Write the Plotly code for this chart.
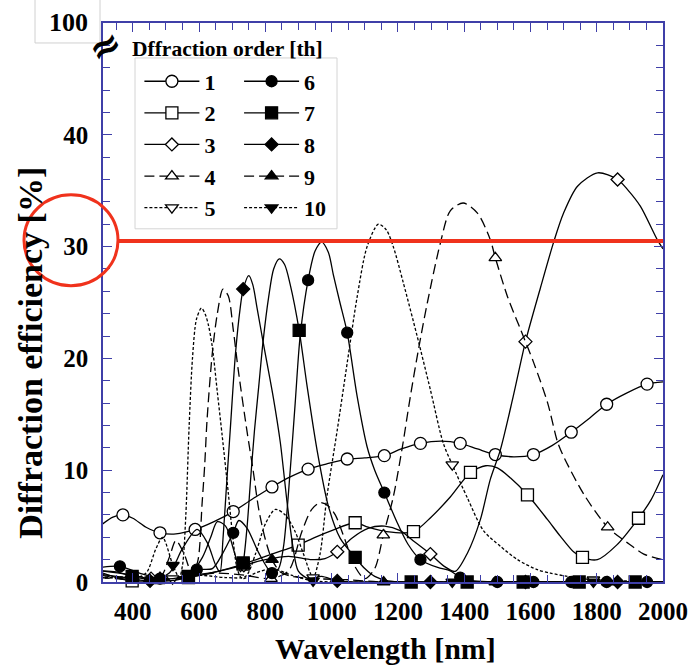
import plotly.graph_objects as go

# ---------------- data ----------------
wl1 = [300, 340, 370, 400, 440, 482, 530, 588, 645, 703, 760, 820, 875, 929, 990, 1047, 1100, 1159, 1210, 1268, 1330, 1388, 1440, 1494, 1550, 1609, 1665, 1723, 1780, 1830, 1890, 1952, 2000]
ef1 = [5.0, 5.8, 6.0, 5.7, 4.9, 4.4, 4.3, 4.7, 5.4, 6.3, 7.4, 8.5, 9.4, 10.1, 10.6, 11.0, 11.1, 11.3, 11.9, 12.4, 12.6, 12.4, 11.9, 11.4, 11.2, 11.4, 12.2, 13.4, 14.7, 15.9, 16.9, 17.7, 17.9]
mk1 = [370, 482, 588, 703, 820, 929, 1047, 1159, 1268, 1388, 1494, 1609, 1723, 1830, 1952]

wl2 = [300, 350, 398, 450, 500, 568, 650, 733, 800, 850, 899, 950, 1000, 1071, 1110, 1166, 1247, 1300, 1358, 1419, 1465, 1500, 1540, 1591, 1651, 1690, 1730, 1757, 1802, 1860, 1926, 1963, 2000]
ef2 = [0.9, 0.4, 0.1, 0.1, 0.2, 0.4, 0.9, 1.6, 2.3, 2.8, 3.3, 4.0, 4.6, 5.3, 4.9, 4.5, 4.5, 5.8, 7.6, 9.8, 10.4, 10.2, 9.3, 7.8, 5.6, 4.1, 2.7, 2.2, 2.0, 3.3, 5.7, 7.3, 9.6]
mk2 = [398, 568, 733, 899, 1071, 1247, 1419, 1591, 1757, 1926]

wl3 = [300, 380, 455, 550, 650, 735, 800, 870, 940, 980, 1017, 1060, 1110, 1160, 1207, 1250, 1298, 1340, 1373, 1410, 1449, 1479, 1509, 1548, 1585, 1630, 1670, 1700, 1742, 1803, 1863, 1893, 1932, 1983, 2000]
ef3 = [1.0, 0.7, 0.3, 0.5, 0.9, 1.5, 2.0, 2.3, 2.0, 2.1, 2.7, 3.9, 4.8, 5.0, 4.6, 3.6, 2.5, 1.4, 0.95, 2.6, 5.6, 9.2, 11.8, 16.6, 21.5, 26.3, 30.4, 33.0, 35.4, 36.6, 36.0, 35.1, 33.6, 30.6, 29.8]
mk3 = [455, 735, 1017, 1298, 1585, 1863]

wl4 = [300, 400, 478, 560, 650, 740, 817, 870, 910, 940, 966, 990, 1011, 1040, 1070, 1100, 1130, 1156, 1186, 1213, 1237, 1262, 1289, 1328, 1358, 1397, 1440, 1479, 1494, 1531, 1570, 1610, 1652, 1682, 1702, 1762, 1833, 1893, 1942, 2000]
ef4 = [0.4, 0.2, 0.1, 0.4, 0.8, 0.6, 0.3, 1.0, 4.5, 6.5, 7.1, 6.8, 6.0, 3.8, 1.4, 0.3, 1.2, 4.2, 7.6, 12.0, 16.5, 20.8, 25.0, 30.3, 33.2, 33.9, 33.0, 30.6, 29.0, 25.5, 22.6, 19.6, 16.0, 12.5, 11.1, 7.8, 4.9, 3.5, 2.5, 2.0]
mk4 = [478, 817, 1156, 1494, 1833]

wl5 = [300, 400, 520, 600, 680, 740, 770, 800, 830, 860, 890, 915, 944, 965, 986, 1017, 1047, 1077, 1107, 1141, 1165, 1186, 1216, 1258, 1298, 1337, 1364, 1410, 1458, 1509, 1561, 1621, 1660, 1712, 1790, 1880, 2000]
ef5 = [0.3, 0.5, 0.3, 0.6, 0.4, 0.5, 2.5, 5.2, 6.5, 6.0, 4.5, 2.5, 0.4, 2.5, 7.7, 13.6, 19.6, 25.5, 30.0, 32.0, 31.5, 30.0, 26.8, 22.0, 17.2, 12.4, 10.5, 7.5, 4.6, 3.2, 2.0, 1.1, 0.8, 0.5, 0.2, 0.1, 0.0]
mk5 = [520, 944, 1364, 1790]

wl6 = [300, 361, 420, 482, 540, 593, 640, 670, 703, 720, 745, 780, 820, 840, 855, 875, 890, 905, 929, 950, 970, 990, 1005, 1025, 1047, 1077, 1107, 1130, 1159, 1198, 1230, 1268, 1320, 1358, 1388, 1430, 1500, 1609, 1723, 1830, 1952, 2000]
ef6 = [1.3, 1.4, 0.8, 0.3, 0.4, 1.1, 1.2, 2.5, 4.4, 5.5, 4.8, 2.6, 0.8, 1.2, 3.2, 10.0, 16.0, 22.0, 27.0, 29.6, 30.4, 29.5, 27.5, 25.0, 22.3, 16.6, 12.1, 10.0, 8.0, 5.3, 3.4, 2.0, 1.3, 1.0, 0.4, 0.1, 0.0, 0.0, 0.0, 0.0, 0.0, 0.0]
mk6 = [361, 482, 593, 703, 820, 929, 1047, 1159, 1268, 1388, 1500, 1609, 1723, 1830, 1952]

wl7 = [300, 350, 398, 450, 510, 567, 610, 635, 655, 680, 705, 725, 733, 745, 755, 767, 780, 793, 810, 825, 842, 858, 875, 902, 926, 956, 990, 1026, 1071, 1100, 1130, 1170, 1240, 1409, 1578, 1747, 1916, 2000]
ef7 = [1.0, 0.9, 0.5, 0.2, 0.1, 0.5, 2.2, 4.0, 5.4, 5.0, 2.8, 0.9, 1.7, 5.0, 9.0, 13.5, 17.5, 21.5, 25.5, 28.0, 28.9, 28.4, 26.6, 22.5, 17.5, 11.8, 6.8, 3.9, 2.2, 1.2, 0.5, 0.1, 0.0, 0.0, 0.0, 0.0, 0.0, 0.0]
mk7 = [398, 567, 733, 902, 1071, 1240, 1409, 1578, 1747, 1916]

wl8 = [300, 380, 452, 510, 550, 594, 625, 650, 663, 672, 684, 694, 710, 724, 733, 750, 762, 775, 793, 824, 845, 866, 884, 899, 930, 970, 1017, 1100, 1298, 1585, 1863, 2000]
ef8 = [0.7, 0.4, 0.1, 0.8, 3.0, 4.7, 3.5, 1.5, 0.9, 3.8, 9.2, 13.6, 20.5, 24.5, 26.2, 27.4, 26.6, 24.5, 21.5, 16.5, 12.5, 7.0, 3.0, 1.0, 0.3, 0.5, 0.1, 0.0, 0.0, 0.0, 0.0, 0.0]
mk8 = [452, 733, 1017, 1298, 1585, 1863]

wl9 = [300, 400, 482, 510, 530, 555, 580, 597, 609, 617, 624, 640, 655, 672, 688, 703, 718, 745, 763, 780, 800, 820, 845, 880, 950, 1050, 1157, 1494, 1833, 2000]
ef9 = [0.6, 0.3, 0.4, 2.2, 3.7, 2.5, 0.6, 2.0, 7.0, 10.5, 14.5, 20.5, 24.0, 26.2, 25.6, 22.6, 19.0, 13.4, 10.0, 6.5, 3.8, 2.0, 0.9, 0.5, 0.3, 0.2, 0.0, 0.0, 0.0, 0.0]
mk9 = [482, 820, 1157, 1494, 1833]

wl10 = [300, 400, 440, 470, 490, 521, 540, 550, 560, 570, 580, 592, 607, 618, 628, 640, 655, 670, 688, 700, 715, 730, 770, 820, 880, 944, 1050, 1364, 1790, 2000]
ef10 = [0.5, 0.3, 0.8, 3.0, 4.0, 1.5, 0.4, 1.5, 6.0, 14.0, 20.0, 23.5, 24.5, 24.0, 23.0, 21.0, 17.0, 13.0, 8.0, 4.5, 1.2, 0.3, 0.8, 1.2, 0.6, 0.1, 0.0, 0.0, 0.0, 0.0]
mk10 = [521, 944, 1364, 1790]

orders = ["1", "2", "3", "4", "5", "6", "7", "8", "9", "10"]
x_ticks = [400, 600, 800, 1000, 1200, 1400, 1600, 1800, 2000]
y_ticks = [0, 10, 20, 30, 40]
top_label = "100"
highlight_level = 30.5

series = [(wl1, ef1, mk1), (wl2, ef2, mk2), (wl3, ef3, mk3), (wl4, ef4, mk4), (wl5, ef5, mk5),
          (wl6, ef6, mk6), (wl7, ef7, mk7), (wl8, ef8, mk8), (wl9, ef9, mk9), (wl10, ef10, mk10)]

# ---------------- styles ----------------
dashes = ["solid", "solid", "solid", "10px,5px", "3px,2px",
          "solid", "solid", "solid", "10px,5px", "3px,2px"]
symbols = ["circle", "square", "diamond", "triangle-up", "triangle-down",
           "circle", "square", "diamond", "triangle-up", "triangle-down"]
sizes = [12, 12, 10, 11, 11, 11, 12, 10, 11, 11]
FONT = "Liberation Serif"
AX = "#3f3fa8"
RED = "#f0321c"

fig = go.Figure()
for i, (wl, ef, mk) in enumerate(series):
    filled = i >= 5
    mcolor = "black" if filled else "white"
    marker = dict(symbol=symbols[i], size=sizes[i], color=mcolor,
                  line=dict(color="black", width=1.3))
    line = dict(color="black", width=1.3, dash=dashes[i], shape="spline", smoothing=0.8)
    fig.add_trace(go.Scatter(x=wl, y=ef, mode="lines", line=line, showlegend=False,
                             hoverinfo="skip"))
    lookup = dict(zip(wl, ef))
    fig.add_trace(go.Scatter(x=mk, y=[lookup[w] for w in mk], mode="markers", marker=marker,
                             showlegend=False, cliponaxis=False))
    fig.add_trace(go.Scatter(x=[None], y=[None], mode="lines+markers", name=orders[i],
                             line=dict(color="black", width=1.3, dash=dashes[i]), marker=marker,
                             legend="legend" if i < 5 else "legend2"))

axis_common = dict(showgrid=False, zeroline=False, showline=True, linecolor=AX, linewidth=1.5,
                   mirror="allticks", ticks="inside", ticklen=9, tickcolor=AX, tickwidth=1.3,
                   automargin=False,
                   tickfont=dict(family=FONT, size=25, color="black", weight="bold"))
fig.update_xaxes(range=[310, 2000], tickvals=x_ticks, ticktext=[str(v) for v in x_ticks],
                 minor=dict(dtick=50, ticks="inside", ticklen=7, tickcolor=AX, tickwidth=1.2),
                 ticklabelstandoff=6, **axis_common)
fig.update_yaxes(range=[0, 50], tickvals=y_ticks, ticktext=[str(v) for v in y_ticks],
                 minor=dict(dtick=2, ticks="inside", ticklen=7, tickcolor=AX, tickwidth=1.2),
                 ticklabelstandoff=8, **axis_common)

legend_common = dict(bgcolor="rgba(0,0,0,0)", borderwidth=0, xanchor="left", yanchor="top",
                     font=dict(family=FONT, size=22, color="black", weight="bold"),
                     itemwidth=55, tracegroupgap=0)
fig.update_layout(
    width=691, height=665,
    margin=dict(l=103, r=28, t=23, b=83),
    paper_bgcolor="white", plot_bgcolor="white",
    legend=dict(x=0.065, y=0.933, **legend_common),
    legend2=dict(x=0.243, y=0.933, **legend_common),
)

def px(xp):
    return (xp - 103) / 560.0

def py(yp):
    return (582.5 - yp) / 559.5

shapes = [
    # box behind the legend
    dict(type="rect", xref="paper", yref="paper", x0=px(135), x1=px(337), y0=py(229), y1=py(58),
         line=dict(color="#d4d4d4", width=1), fillcolor="white", layer="above"),
    # box around the "100" label
    dict(type="rect", xref="paper", yref="paper", x0=px(35), x1=px(100), y0=py(43), y1=py(-5),
         line=dict(color="#d0d0d0", width=1), fillcolor="white", layer="above"),
    # red highlight line and circle
    dict(type="line", xref="paper", yref="y", x0=px(118), x1=1.0, y0=highlight_level, y1=highlight_level,
         line=dict(color=RED, width=4), layer="above"),
    dict(type="circle", xref="paper", yref="paper", x0=px(24), x1=px(118), y0=py(286), y1=py(195),
         line=dict(color=RED, width=3), layer="above"),
]
fig.update_layout(shapes=shapes)

def note(text, x, y, size, family=FONT, angle=0, xanchor="center"):
    return dict(text=text, xref="paper", yref="paper", x=px(x), y=py(y), xanchor=xanchor,
                yanchor="middle", showarrow=False, textangle=angle,
                font=dict(family=family, size=size, color="black"))

annotations = [
    note("<b>" + top_label + "</b>", 68, 22, 26),
    note("<b>≈</b>", 105, 46, 38, family="DejaVu Sans", angle=-30),
    note("<b>Dffraction order [th]</b>", 130, 49, 21.5, xanchor="left"),
    note("<b>Wavelength [nm]</b>", 385, 649, 30),
    note("<b>Diffraction efficiency [%]</b>", 31, 353, 34, angle=-90),
]
fig.update_layout(annotations=annotations)

fig.write_html("out.html")
